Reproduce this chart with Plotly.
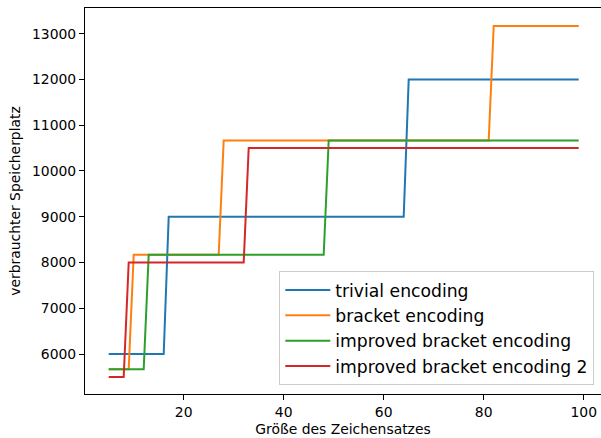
import plotly.graph_objects as go

# Step vertices (character set size -> used storage)
trivial_x = [5, 16, 17, 64, 65, 99]
trivial_y = [6000, 6000, 9000, 9000, 12000, 12000]

bracket_x = [5, 9, 10, 27, 28, 81, 82, 99]
bracket_y = [5667, 5667, 8167, 8167, 10667, 10667, 13167, 13167]

improved_x = [5, 12, 13, 48, 49, 99]
improved_y = [5667, 5667, 8167, 8167, 10667, 10667]

improved2_x = [5, 8, 9, 32, 33, 99]
improved2_y = [5500, 5500, 8000, 8000, 10500, 10500]

names = ["trivial encoding", "bracket encoding", "improved bracket encoding",
         "improved bracket encoding 2"]
colors = ["#1f77b4", "#ff7f0e", "#2ca02c", "#d62728"]

x_ticks = [20, 40, 60, 80, 100]
y_ticks = [6000, 7000, 8000, 9000, 10000, 11000, 12000, 13000]
y_tick_labels = ["6000", "7000", "8000", "9000", "10000", "11000", "12000", "13000"]

series = [(trivial_x, trivial_y), (bracket_x, bracket_y),
          (improved_x, improved_y), (improved2_x, improved2_y)]

fig = go.Figure()
for (xs, ys), name, col in zip(series, names, colors):
    fig.add_trace(go.Scatter(x=xs, y=ys, mode="lines", name=name,
                             line=dict(color=col, width=2)))

font_family = "DejaVu Sans"
fig.update_layout(
    width=601, height=438,
    margin=dict(l=85, r=0, t=8, b=44),
    paper_bgcolor="white", plot_bgcolor="white",
    font=dict(family=font_family, size=14, color="black"),
    showlegend=True,
    legend=dict(
        x=0.987, y=0.0225, xanchor="right", yanchor="bottom",
        bgcolor="rgba(255,255,255,0.8)", bordercolor="#cccccc", borderwidth=1,
        font=dict(family=font_family, size=17.2, color="black"),
        tracegroupgap=0, itemwidth=45,
    ),
)
fig.update_xaxes(
    range=[0.26, 103.46],
    tickmode="array", tickvals=x_ticks,
    ticks="outside", ticklen=5, tickwidth=1.1, tickcolor="black",
    showline=True, linecolor="black", linewidth=1.1, mirror=True,
    showgrid=False, zeroline=False,
    tickfont=dict(size=13.9, family=font_family),
    title=dict(text="Größe des Zeichensatzes", standoff=5,
               font=dict(size=13.9, family=font_family)),
)
fig.update_yaxes(
    range=[5126, 13561],
    tickmode="array", tickvals=y_ticks, ticktext=y_tick_labels,
    ticks="outside", ticklen=5, tickwidth=1.1, tickcolor="black",
    showline=True, linecolor="black", linewidth=1.1, mirror=False,
    showgrid=False, zeroline=False,
    tickfont=dict(size=13.9, family=font_family),
    title=dict(text="verbrauchter Speicherplatz", standoff=8,
               font=dict(size=13.9, family=font_family)),
)

fig.write_html("out.html")
